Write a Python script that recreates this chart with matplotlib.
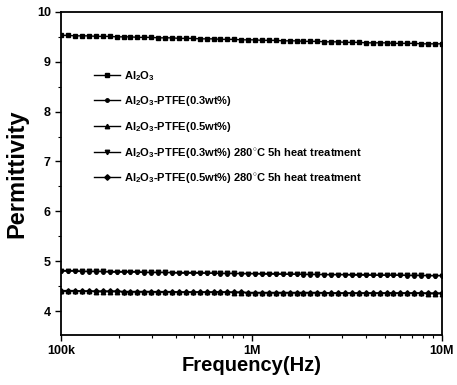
import numpy as np
import matplotlib
matplotlib.use("Agg")
import matplotlib.pyplot as plt
from matplotlib.ticker import NullFormatter, MultipleLocator

plt.rcParams['font.family'] = ['Liberation Sans', 'DejaVu Sans']
plt.rcParams['mathtext.fontset'] = 'custom'
plt.rcParams['mathtext.rm'] = 'Liberation Sans:bold'
plt.rcParams['mathtext.bf'] = 'Liberation Sans:bold'

# === Data ===
freq = np.logspace(5, 7, 56)

al2o3 = [9.53, 9.53, 9.52, 9.52, 9.52, 9.51, 9.51, 9.51, 9.50, 9.50,
         9.50, 9.49, 9.49, 9.49, 9.48, 9.48, 9.48, 9.47, 9.47, 9.47,
         9.46, 9.46, 9.46, 9.45, 9.45, 9.45, 9.44, 9.44, 9.44, 9.43,
         9.43, 9.43, 9.42, 9.42, 9.42, 9.41, 9.41, 9.41, 9.40, 9.40,
         9.40, 9.39, 9.39, 9.39, 9.38, 9.38, 9.38, 9.38, 9.37, 9.37,
         9.37, 9.37, 9.36, 9.36, 9.36, 9.36]
ptfe03 = [4.80, 4.80, 4.80, 4.79, 4.79, 4.79, 4.79, 4.78, 4.78, 4.78,
          4.78, 4.78, 4.77, 4.77, 4.77, 4.77, 4.77, 4.76, 4.76, 4.76,
          4.76, 4.76, 4.76, 4.75, 4.75, 4.75, 4.75, 4.75, 4.75, 4.74,
          4.74, 4.74, 4.74, 4.74, 4.74, 4.73, 4.73, 4.73, 4.73, 4.73,
          4.73, 4.73, 4.72, 4.72, 4.72, 4.72, 4.72, 4.72, 4.72, 4.72,
          4.71, 4.71, 4.71, 4.71, 4.71, 4.71]
ptfe05 = [4.40, 4.40, 4.40, 4.40, 4.40, 4.39, 4.39, 4.39, 4.39, 4.39,
          4.39, 4.39, 4.39, 4.39, 4.38, 4.38, 4.38, 4.38, 4.38, 4.38,
          4.38, 4.38, 4.38, 4.38, 4.38, 4.37, 4.37, 4.37, 4.37, 4.37,
          4.37, 4.37, 4.37, 4.37, 4.37, 4.37, 4.37, 4.37, 4.36, 4.36,
          4.36, 4.36, 4.36, 4.36, 4.36, 4.36, 4.36, 4.36, 4.36, 4.36,
          4.36, 4.36, 4.36, 4.35, 4.35, 4.35]
ptfe03_heat = [4.81, 4.81, 4.81, 4.80, 4.80, 4.80, 4.80, 4.79, 4.79, 4.79,
               4.79, 4.79, 4.78, 4.78, 4.78, 4.78, 4.77, 4.77, 4.77, 4.77,
               4.77, 4.76, 4.76, 4.76, 4.76, 4.76, 4.75, 4.75, 4.75, 4.75,
               4.75, 4.75, 4.74, 4.74, 4.74, 4.74, 4.74, 4.74, 4.73, 4.73,
               4.73, 4.73, 4.73, 4.73, 4.73, 4.72, 4.72, 4.72, 4.72, 4.72,
               4.72, 4.72, 4.72, 4.71, 4.71, 4.71]
ptfe05_heat = [4.41, 4.41, 4.41, 4.40, 4.40, 4.40, 4.40, 4.40, 4.40, 4.39,
               4.39, 4.39, 4.39, 4.39, 4.39, 4.39, 4.39, 4.38, 4.38, 4.38,
               4.38, 4.38, 4.38, 4.38, 4.38, 4.38, 4.38, 4.37, 4.37, 4.37,
               4.37, 4.37, 4.37, 4.37, 4.37, 4.37, 4.37, 4.37, 4.37, 4.36,
               4.36, 4.36, 4.36, 4.36, 4.36, 4.36, 4.36, 4.36, 4.36, 4.36,
               4.36, 4.36, 4.36, 4.36, 4.36, 4.36]

labels = [r'Al$_2$O$_3$',
          r'Al$_2$O$_3$-PTFE(0.3wt%)',
          r'Al$_2$O$_3$-PTFE(0.5wt%)',
          r'Al$_2$O$_3$-PTFE(0.3wt%) 280$^{\circ}$C 5h heat treatment',
          r'Al$_2$O$_3$-PTFE(0.5wt%) 280$^{\circ}$C 5h heat treatment']
series = [al2o3, ptfe03, ptfe05, ptfe03_heat, ptfe05_heat]
markers = ['s', 'o', '^', 'v', 'D']
msizes = [2.8, 2.5, 3.2, 3.2, 2.8]

fig = plt.figure(figsize=(4.57, 3.85), dpi=100)
ax = fig.add_axes([0.134, 0.13, 0.833, 0.839])

for y, lab, m, ms in zip(series, labels, markers, msizes):
    ax.plot(freq, y, color='black', marker=m, markersize=ms, linewidth=1.0,
            label=lab)

ax.set_xscale('log')
ax.set_xlim(1e5, 1e7)
ax.set_ylim(3.52, 10)
ax.set_xticks([1e5, 1e6, 1e7])
ax.set_xticklabels(['100k', '1M', '10M'])
ax.xaxis.set_minor_formatter(NullFormatter())
ax.yaxis.set_major_locator(MultipleLocator(1))
ax.yaxis.set_minor_locator(MultipleLocator(0.5))

for lbl in ax.get_xticklabels() + ax.get_yticklabels():
    lbl.set_fontweight('bold')
    lbl.set_fontsize(9)
ax.tick_params(which='major', direction='out', length=4, width=1)
ax.tick_params(which='minor', direction='out', length=2, width=0.8)
for s in ax.spines.values():
    s.set_linewidth(1.3)

ax.set_xlabel('Frequency(Hz)', fontsize=14.5, fontweight='bold', labelpad=-1)
ax.set_ylabel('Permittivity', fontsize=17, fontweight='bold', labelpad=6)

leg = ax.legend(loc='upper left', bbox_to_anchor=(0.06, 0.855), frameon=False,
                prop={'weight': 'bold', 'size': 8}, handlelength=2.3,
                labelspacing=1.05, handletextpad=0.4)

fig.savefig('out.png', dpi=100)
